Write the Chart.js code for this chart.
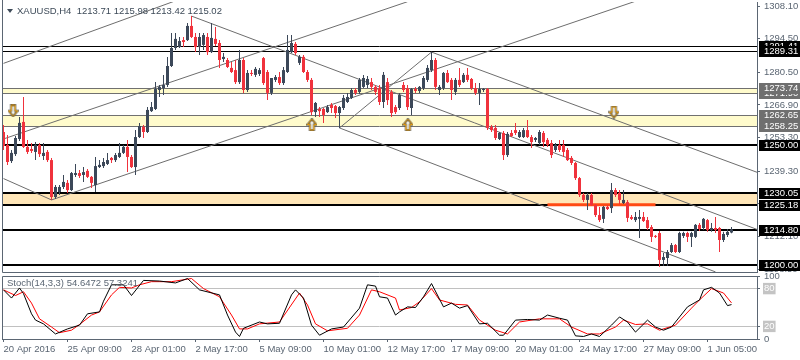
<!DOCTYPE html>
<html>
<head>
<meta charset="utf-8">
<script src="https://cdn.jsdelivr.net/npm/chart.js@4.4.0/dist/chart.umd.min.js"></script>
<style>
  html, body { margin: 0; padding: 0; background: #fff; }
  #wrap { position: relative; width: 800px; height: 360px; overflow: hidden; }
  #main { position: absolute; left: 0; top: 0; }
  #stoch { position: absolute; left: 0; top: 264px; }
</style>
</head>
<body>
<div id="wrap">
  <canvas id="main" width="800" height="274"></canvas>
  <canvas id="stoch" width="800" height="96"></canvas>
</div>
<script>
// XAUUSD H4 candles (bar 0 = 20 Apr 2016)
const openP = [
  1255.6,1250.2,1243.5,1246.4,1252.7,1259.8,1249.4,1248.5,1247.3,1250.2,
  1245.6,1247.3,1243.9,1228.5,1230.6,1232.7,1234.4,1231.4,1237.7,1238.5,
  1237.7,1239.4,1236.9,1233.5,1241.0,1241.4,1242.3,1244.8,1243.9,1245.2,
  1246.9,1249.4,1245.2,1241.0,1253.5,1257.7,1255.6,1264.3,1265.2,1273.1,
  1273.9,1275.2,1283.1,1290.6,1291.0,1293.9,1293.9,1299.8,1295.2,1291.0,
  1291.9,1295.2,1288.9,1294.4,1292.7,1286.0,1285.6,1282.3,1281.4,1276.4,
  1285.6,1273.1,1280.2,1279.4,1279.8,1286.4,1280.6,1271.9,1277.3,1278.5,
  1276.0,1280.6,1288.9,1292.3,1284.4,1286.9,1280.6,1277.3,1263.9,1265.2,
  1265.2,1263.9,1266.9,1266.4,1263.5,1265.6,1268.1,1269.8,1273.1,1272.3,
  1274.4,1275.2,1276.4,1274.4,1273.9,1268.1,1276.4,1272.3,1266.0,1265.6,
  1275.2,1273.9,1265.6,1273.5,1272.7,1273.9,1277.3,1281.4,1285.6,1273.1,
  1273.9,1280.2,1277.3,1272.3,1277.3,1276.4,1279.4,1277.7,1273.9,1271.9,
  1273.1,1273.5,1257.7,1257.3,1252.7,1255.2,1246.0,1255.2,1256.4,1253.5,
  1253.5,1256.4,1253.5,1252.3,1251.0,1255.2,1252.3,1251.0,1248.1,1250.2,
  1250.2,1248.1,1244.8,1242.7,1236.4,1229.4,1227.3,1229.4,1225.2,1221.0,
  1219.4,1224.4,1223.9,1231.4,1230.2,1226.0,1226.4,1220.2,1218.9,1219.4,
  1220.2,1218.9,1216.0,1212.3,1213.5,1202.3,1203.1,1205.6,1208.5,1205.6,
  1212.3,1213.5,1211.9,1211.9,1216.9,1215.6,1218.9,1214.8,1215.6,1215.6,
  1210.6,1212.7,1213.71
];
const highP = [
  1258.5,1254.4,1248.1,1253.9,1261.9,1270.2,1252.3,1251.0,1251.4,1251.0,
  1251.0,1248.1,1244.8,1233.5,1233.5,1237.7,1235.6,1238.9,1242.3,1239.8,
  1241.0,1240.2,1237.3,1245.2,1243.9,1244.8,1246.9,1245.2,1246.9,1251.0,
  1250.2,1252.3,1246.0,1256.4,1259.4,1258.5,1266.0,1268.1,1276.4,1275.2,
  1279.4,1286.9,1296.9,1296.9,1295.2,1295.2,1301.0,1303.9,1296.9,1296.9,
  1296.9,1296.9,1301.0,1299.4,1293.9,1288.5,1286.4,1284.8,1285.6,1289.8,
  1286.4,1281.4,1281.4,1282.7,1282.3,1286.9,1281.4,1278.1,1279.4,1280.6,
  1282.7,1296.0,1296.0,1293.1,1287.7,1287.7,1281.4,1278.1,1268.1,1266.0,
  1265.6,1266.9,1267.7,1266.9,1266.4,1271.0,1271.9,1273.9,1273.9,1278.1,
  1279.4,1278.9,1278.1,1275.2,1275.2,1280.6,1278.1,1273.1,1266.9,1271.9,
  1276.4,1275.2,1273.9,1274.4,1274.8,1278.9,1283.5,1288.9,1286.4,1275.2,
  1280.6,1281.4,1278.1,1278.1,1282.3,1280.2,1282.3,1278.1,1276.0,1276.0,
  1273.9,1273.9,1258.5,1258.5,1255.6,1256.0,1255.6,1256.4,1259.4,1256.4,
  1257.3,1260.6,1254.4,1253.5,1256.4,1256.0,1253.1,1252.3,1251.0,1252.3,
  1252.3,1248.9,1245.6,1243.1,1236.9,1230.2,1230.2,1230.2,1225.6,1224.4,
  1224.8,1225.2,1234.4,1232.3,1231.4,1231.4,1227.3,1221.0,1222.3,1223.1,
  1222.3,1220.2,1216.9,1212.7,1214.4,1205.2,1206.4,1209.4,1208.9,1214.0,
  1214.0,1214.0,1214.0,1217.3,1217.7,1219.8,1219.4,1217.7,1220.2,1216.0,
  1214.0,1215.2,1215.98
];
const lowP = [
  1248.1,1241.9,1242.7,1245.6,1251.9,1248.9,1246.4,1246.9,1243.9,1245.2,
  1243.9,1243.1,1227.3,1227.7,1229.4,1231.9,1230.2,1231.0,1236.9,1236.4,
  1234.8,1236.4,1232.3,1230.6,1240.6,1240.6,1241.9,1242.7,1243.1,1244.8,
  1246.4,1238.9,1240.6,1237.7,1253.1,1253.1,1255.2,1263.9,1264.8,1270.2,
  1271.0,1274.4,1282.7,1289.8,1290.6,1291.0,1293.5,1294.8,1288.9,1287.7,
  1289.8,1287.7,1288.5,1291.4,1282.3,1284.8,1282.3,1280.2,1275.6,1275.6,
  1271.9,1272.3,1278.9,1278.5,1278.9,1275.2,1268.9,1271.0,1276.4,1275.2,
  1275.2,1280.2,1288.5,1287.7,1283.5,1280.2,1276.4,1262.7,1261.9,1261.9,
  1259.4,1263.5,1263.5,1261.4,1257.3,1264.8,1267.7,1269.4,1271.0,1271.4,
  1273.9,1273.9,1273.1,1271.0,1266.9,1265.6,1266.9,1261.9,1263.1,1264.8,
  1272.3,1264.8,1262.7,1271.9,1271.9,1273.1,1276.4,1280.6,1273.1,1271.0,
  1273.1,1276.0,1268.9,1271.0,1274.4,1276.0,1276.4,1273.1,1271.0,1266.9,
  1272.3,1256.4,1255.6,1252.3,1252.3,1243.9,1245.2,1253.5,1254.4,1253.1,
  1253.1,1253.1,1248.9,1251.4,1250.2,1249.4,1249.4,1244.8,1247.3,1247.3,
  1245.2,1243.5,1241.9,1235.6,1228.5,1226.4,1223.1,1224.8,1220.2,1218.1,
  1217.7,1223.1,1221.9,1228.5,1225.6,1225.6,1218.1,1218.9,1218.1,1211.4,
  1218.1,1214.8,1209.8,1211.4,1199.4,1199.8,1199.8,1205.2,1205.2,1205.2,
  1211.4,1209.8,1207.7,1211.4,1214.4,1214.8,1214.0,1214.0,1213.5,1205.6,
  1209.8,1211.9,1213.42
];
const closeP = [
  1249.8,1243.1,1246.9,1253.1,1259.4,1249.4,1247.3,1247.7,1250.2,1246.4,
  1246.9,1243.9,1228.5,1232.7,1232.7,1234.8,1231.4,1238.5,1238.5,1237.3,
  1238.9,1236.9,1234.4,1241.4,1241.9,1243.1,1243.9,1243.9,1246.0,1246.9,
  1249.4,1245.2,1241.0,1253.5,1258.1,1255.6,1264.8,1266.0,1273.5,1274.4,
  1275.2,1283.1,1290.6,1294.4,1293.5,1293.1,1299.8,1295.2,1291.0,1295.2,
  1296.0,1288.9,1294.8,1292.3,1285.6,1286.9,1282.7,1280.6,1276.4,1285.6,
  1273.1,1280.2,1279.8,1281.9,1281.4,1276.0,1271.9,1278.1,1278.5,1276.0,
  1281.4,1289.8,1292.7,1288.5,1286.9,1280.6,1277.3,1263.9,1267.7,1264.3,
  1262.7,1266.0,1265.6,1263.5,1266.0,1269.8,1270.2,1273.1,1271.9,1277.3,
  1278.1,1277.7,1274.4,1272.3,1268.1,1279.4,1268.9,1263.5,1263.9,1271.0,
  1273.1,1266.0,1273.5,1272.7,1274.4,1278.1,1282.3,1285.6,1274.4,1274.4,
  1280.2,1276.4,1273.1,1277.3,1275.2,1279.4,1277.3,1273.9,1271.9,1273.5,
  1273.5,1257.3,1256.4,1253.1,1255.2,1246.0,1254.8,1253.9,1255.2,1255.6,
  1256.4,1253.5,1251.4,1253.1,1255.6,1251.4,1250.2,1246.0,1250.2,1248.1,
  1247.3,1243.9,1242.7,1236.4,1229.4,1227.3,1229.4,1225.2,1221.0,1218.9,
  1224.4,1223.5,1231.4,1229.4,1227.3,1227.3,1219.8,1219.4,1220.2,1220.2,
  1218.5,1215.6,1211.9,1211.9,1202.3,1203.5,1205.6,1208.5,1205.6,1213.5,
  1213.5,1211.9,1213.5,1216.9,1215.2,1219.4,1214.8,1215.6,1214.8,1210.6,
  1213.1,1214.0,1215.02
];

// Stochastic (14,3,3), read at points along each line: bar index and value
const stochKBar = [0,2,4,5,7,8,10,13,16,19,21,24,25,27,30,32,35,39,43,46,
  49,54,56,58,59,60,64,66,69,72,73,75,77,79,82,85,89,91,93,94,
  96,98,99,101,103,105,107,110,112,114,116,119,121,124,125,128,131,134,136,139,
  141,143,145,147,149,152,154,156,158,161,163,165,167,171,174,175,177,179,181,182];
const stochK = [78,65,81,72,40,30,24,8,16,22,40,43,60,86,86,69,93,92,89,96,
  78,70,38,11,4,17,27,24,25,70,78,65,22,6,16,19,49,86,84,67,
  65,38,43,51,50,67,88,51,57,49,53,24,25,6,6,30,31,30,38,33,
  30,5,4,8,4,22,35,27,11,30,19,14,19,51,62,78,82,73,53,54.65];
const stochDBar = [0,3,5,7,9,12,14,17,19,22,24,27,29,32,34,37,42,47,50,54,
  57,59,61,64,69,74,76,78,81,86,89,92,94,98,99,102,104,107,109,113,
  116,119,123,126,129,134,139,142,146,149,153,155,158,161,164,168,172,174,177,180,182];
const stochD = [78,69,75,57,32,19,10,14,23,38,43,70,82,81,86,91,91,96,80,67,
  38,16,16,24,27,73,54,24,13,17,38,78,75,65,46,50,59,80,62,55,
  54,30,14,8,27,32,32,19,8,8,19,30,23,24,14,22,49,62,80,73,57.32];

// axis ticks
const priceTicks = [1308.10,1294.50,1280.50,1266.90,1253.30,1239.30,1225.70,1212.10,1198.50];
const timeTicks = [0,16,32,48,64,80,96,112,128,144,160,176];
const timeLabels = ["20 Apr 2016","25 Apr 09:00","28 Apr 01:00","2 May 17:00","5 May 09:00",
  "10 May 01:00","12 May 17:00","17 May 09:00","20 May 01:00","24 May 17:00","27 May 09:00","1 Jun 05:00"];

// chart objects
const blackLevels = [1291.41, 1289.31, 1250.00, 1230.05, 1225.18, 1214.80, 1200.00];
const blackWidths = [1, 1, 2, 2, 2, 2, 2];
const yellowBands = [[1271.90, 1273.74], [1258.25, 1262.65]];
const orangeBands = [[1225.18, 1230.05]];
const grayLabels = [1271.90, 1273.74, 1262.65, 1258.25];
const trendLines = [
  [[0, 1284.2], [47, 1312.7]],
  [[0, 1252.7], [101, 1309.9]],
  [[12, 1227.3], [158, 1310.1]],
  [[0, 1236.2], [12, 1227.3]],
  [[47, 1303.9], [188.4, 1215.0]],
  [[107, 1288.9], [188.4, 1238.8]],
  [[84, 1257.3], [178, 1197.3]],
  [[84, 1257.3], [107, 1288.9]]
];
const orangeSeg = [[136, 1225.3], [163, 1225.3]];
const arrowBars = [2.4, 152.6, 77.1, 101.1];
const arrowPrices = [1264.4, 1263.9, 1258.7, 1258.7];
const arrowUp = [false, false, true, true];

const bullColor = '#3c4859';
const bearColor = '#f0323c';
const axisColor = '#5b6673';
const X_MIN = -0.375, X_MAX = 188.375;

Chart.defaults.font.family = "'Liberation Sans', Arial, sans-serif";
Chart.defaults.font.size = 9.5;
Chart.defaults.color = axisColor;
Chart.defaults.animation = false;

function makeArrow(up) {
  const c = document.createElement('canvas');
  c.width = 11; c.height = 13;
  const g = c.getContext('2d');
  g.save();
  if (up) { g.translate(0, 13); g.scale(1, -1); }
  g.beginPath();
  g.moveTo(3.5, 1); g.lineTo(7.5, 1); g.lineTo(7.5, 6.5); g.lineTo(10, 6.5);
  g.lineTo(5.5, 12); g.lineTo(1, 6.5); g.lineTo(3.5, 6.5); g.closePath();
  g.fillStyle = '#fffdf0'; g.fill();
  g.lineWidth = 2; g.strokeStyle = '#555'; g.stroke();
  g.lineWidth = 1; g.strokeStyle = '#f0a000'; g.stroke();
  g.restore();
  return c;
}
const upImg = makeArrow(true), downImg = makeArrow(false);

const idx = openP.map((_, i) => i);
const candleColor = c => closeP[c.dataIndex] >= openP[c.dataIndex] ? bullColor : bearColor;

const levelPlugin = {
  id: 'levels',
  beforeDatasetsDraw(chart) {
    const { ctx, chartArea: a, scales: { y } } = chart;
    ctx.save();
    ctx.beginPath();
    ctx.rect(a.left, a.top, a.right - a.left, a.bottom - a.top);
    ctx.clip();
    const fillBand = (b, col) => {
      const y1 = Math.round(y.getPixelForValue(b[1]));
      const y2 = Math.round(y.getPixelForValue(b[0]));
      ctx.fillStyle = col;
      ctx.fillRect(a.left, y1, a.right - a.left, y2 - y1);
    };
    yellowBands.forEach(b => fillBand(b, '#fffbcc'));
    orangeBands.forEach(b => fillBand(b, '#ffe6b8'));
    ctx.strokeStyle = '#707070';
    ctx.lineWidth = 1;
    yellowBands.forEach(b => b.forEach(v => {
      const py = Math.round(y.getPixelForValue(v)) + 0.5;
      ctx.beginPath(); ctx.moveTo(a.left, py); ctx.lineTo(a.right, py); ctx.stroke();
    }));
    ctx.strokeStyle = '#000';
    blackLevels.forEach((v, i) => {
      const w = blackWidths[i];
      const py = Math.round(y.getPixelForValue(v)) + (w % 2 ? 0.5 : 0);
      ctx.lineWidth = w;
      ctx.beginPath(); ctx.moveTo(a.left, py); ctx.lineTo(a.right, py); ctx.stroke();
    });
    ctx.restore();
  },
  afterDraw(chart) {
    const { ctx, chartArea: a, scales: { y } } = chart;
    ctx.save();
    // frame
    ctx.strokeStyle = axisColor;
    ctx.lineWidth = 1;
    ctx.beginPath();
    ctx.moveTo(a.left + 0.5, 0); ctx.lineTo(a.left + 0.5, a.bottom + 0.5);
    ctx.lineTo(a.right, a.bottom + 0.5);
    ctx.stroke();
    // price boxes on the axis
    ctx.font = "9.5px 'Liberation Sans', Arial, sans-serif";
    ctx.textBaseline = 'middle';
    const box = (v, bg) => {
      const py = Math.round(y.getPixelForValue(v));
      ctx.fillStyle = bg;
      ctx.fillRect(a.right + 2, py - 5, 800 - a.right - 2, 11);
      ctx.fillStyle = '#fff';
      ctx.fillText(v.toFixed(2), a.right + 7, py + 0.5);
    };
    grayLabels.forEach(v => box(v, '#6f6f6f'));
    blackLevels.forEach(v => box(v, '#000'));
    // title
    ctx.fillStyle = '#3d4a58';
    ctx.beginPath();
    ctx.moveTo(7, 9); ctx.lineTo(13, 9); ctx.lineTo(10, 13); ctx.closePath(); ctx.fill();
    ctx.fillText('XAUUSD,H4  1213.71 1215.98 1213.42 1215.02', 17, 11);
    ctx.restore();
  }
};

new Chart(document.getElementById('main'), {
  type: 'bar',
  plugins: [levelPlugin],
  data: {
    datasets: [
      ...trendLines.map(l => ({
        type: 'line', order: 4,
        data: l.map(p => ({ x: p[0], y: p[1] })),
        borderColor: '#6d6d6d', borderWidth: 1, pointRadius: 0, tension: 0
      })),
      {
        type: 'line', order: 3,
        data: orangeSeg.map(p => ({ x: p[0], y: p[1] })),
        borderColor: '#ff4a14', borderWidth: 3, pointRadius: 0
      },
      {
        order: 2,
        data: idx.map(i => ({ x: i, y: [lowP[i], highP[i]] })),
        backgroundColor: candleColor, barThickness: 1, grouped: false,
        minBarLength: 1, borderWidth: 0, inflateAmount: 0
      },
      {
        order: 1,
        data: idx.map(i => ({ x: i, y: [openP[i], closeP[i]] })),
        backgroundColor: candleColor, barThickness: 3, grouped: false,
        minBarLength: 1, borderWidth: 0, inflateAmount: 0
      },
      {
        type: 'line', order: 0, showLine: false,
        data: arrowBars.map((b, i) => ({ x: b, y: arrowPrices[i] })),
        pointStyle: c => arrowUp[c.dataIndex] ? upImg : downImg,
        pointRadius: 5
      }
    ]
  },
  options: {
    responsive: false,
    layout: { autoPadding: false, padding: { left: 2, top: 2, right: 0, bottom: 2 } },
    plugins: { legend: { display: false }, tooltip: { enabled: false } },
    scales: {
      x: { type: 'linear', min: X_MIN, max: X_MAX, offset: false, display: false },
      y: {
        position: 'right', min: 1197.27, max: 1309.77,
        afterBuildTicks: s => { s.ticks = priceTicks.map(v => ({ value: v })); },
        afterFit: s => { s.width = 43; s.paddingTop = 0; s.paddingBottom = 0; },
        ticks: { callback: v => v.toFixed(2), padding: 4, color: axisColor },
        grid: { drawOnChartArea: false, tickLength: 3, color: axisColor },
        border: { color: axisColor }
      }
    }
  }
});

const isLevel = c => c.tick && (c.tick.value === 20 || c.tick.value === 80);

const stochPlugin = {
  id: 'stochText',
  afterDraw(chart) {
    const { ctx, chartArea: a } = chart;
    ctx.save();
    ctx.strokeStyle = axisColor;
    ctx.lineWidth = 1;
    ctx.beginPath();
    ctx.moveTo(a.left + 0.5, a.bottom); ctx.lineTo(a.left + 0.5, a.top + 0.5); ctx.lineTo(a.right, a.top + 0.5);
    ctx.stroke();
    ctx.font = "9.5px 'Liberation Sans', Arial, sans-serif";
    ctx.fillStyle = axisColor;
    ctx.textBaseline = 'middle';
    ctx.fillText('Stoch(14,3,3) 54.6472 57.3241', a.left + 5, a.top + 7);
    ctx.restore();
  }
};

new Chart(document.getElementById('stoch'), {
  type: 'line',
  plugins: [stochPlugin],
  data: {
    datasets: [
      {
        data: stochKBar.map((b, i) => ({ x: b, y: stochK[i] })),
        borderColor: '#000', borderWidth: 1, pointRadius: 0, tension: 0, order: 0
      },
      {
        data: stochDBar.map((b, i) => ({ x: b, y: stochD[i] })),
        borderColor: '#ff0000', borderWidth: 1, pointRadius: 0, tension: 0, order: 1
      }
    ]
  },
  options: {
    responsive: false,
    layout: { autoPadding: false, padding: { left: 2, top: 12, right: 0, bottom: 0 } },
    plugins: { legend: { display: false }, tooltip: { enabled: false } },
    scales: {
      x: {
        type: 'linear', min: X_MIN, max: X_MAX, offset: false,
        afterBuildTicks: s => { s.ticks = timeTicks.map(v => ({ value: v })); },
        afterFit: s => { s.height = 21; s.paddingLeft = 0; s.paddingRight = 0; },
        ticks: { autoSkip: false, maxRotation: 0, align: 'start', padding: 2,
          callback: v => timeLabels[timeTicks.indexOf(v)] },
        grid: { drawOnChartArea: false, tickLength: 3, color: axisColor },
        border: { color: axisColor }
      },
      y: {
        position: 'right', min: 0, max: 100,
        afterBuildTicks: s => { s.ticks = [0, 20, 80, 100].map(v => ({ value: v })); },
        afterFit: s => { s.width = 43; s.paddingTop = 0; s.paddingBottom = 0; },
        ticks: {
          padding: 4, callback: v => String(v),
          showLabelBackdrop: isLevel, backdropColor: '#c4c4c4',
          backdropPadding: { left: 1, right: 1, top: 0, bottom: 0 },
          color: c => isLevel(c) ? '#ffffff' : axisColor
        },
        grid: { color: c => isLevel(c) ? '#c0c0c0' : 'rgba(0,0,0,0)', tickColor: axisColor, tickLength: 3 },
        border: { color: axisColor }
      }
    }
  }
});
</script>
</body>
</html>
